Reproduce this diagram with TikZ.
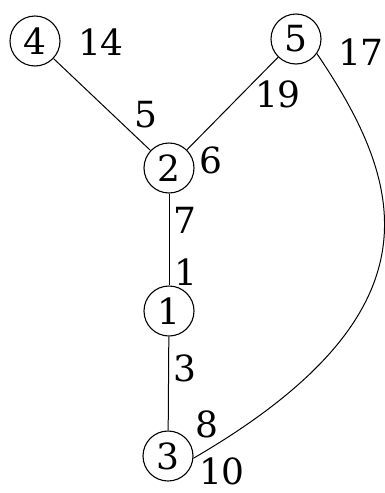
\documentclass[tikz,border=0pt]{standalone}
\usepackage{fontspec}
\setmainfont{DejaVu Serif}
\usepackage{tikz}
\usetikzlibrary{positioning,calc}
\tikzset{
  vertex/.style={circle, draw, line width=1.1pt, minimum size=50pt, inner sep=0pt, font=\fontsize{36}{40}\selectfont},
  weight/.style={inner sep=1pt, font=\fontsize{36}{40}\selectfont},
  edge/.style={line width=1pt}
}
\begin{document}
\begin{tikzpicture}[x=1pt, y=-1pt]
  \useasboundingbox (0,0) rectangle (384,493);
  \node[vertex] (v4) at (35,41) {4};
  \node[vertex] (v5) at (296,39) {5};
  \node[vertex] (v2) at (169,168) {2};
  \node[vertex] (v1) at (169,311) {1};
  \node[vertex] (v3) at (168,456) {3};
  \node[weight] (w4) at (101,42) {14};
  \node[weight] (w5) at (361,52) {17};
  \node[weight] (w2) at (211,160) {6};
  \node[weight] (w3) at (222,471) {10};
  \node[weight] (e42) at (146,115) {5};
  \node[weight] (e52) at (278,94) {19};
  \node[weight] (e21) at (185,220) {7};
  \node[weight] (e12) at (186,272) {1};
  \node[weight] (e13) at (185,368) {3};
  \node[weight] (e35) at (207,424) {8};
  \coordinate (c1) at (405,184);
  \coordinate (c2) at (445,312);
  \draw[edge] (v4)--(v2); \draw[edge] (v5)--(v2); \draw[edge] (v2)--(v1); \draw[edge] (v1)--(v3);
  \draw[edge] (v5.-35) .. controls (c1) and (c2) .. (v3.-5);
\end{tikzpicture}
\end{document}
